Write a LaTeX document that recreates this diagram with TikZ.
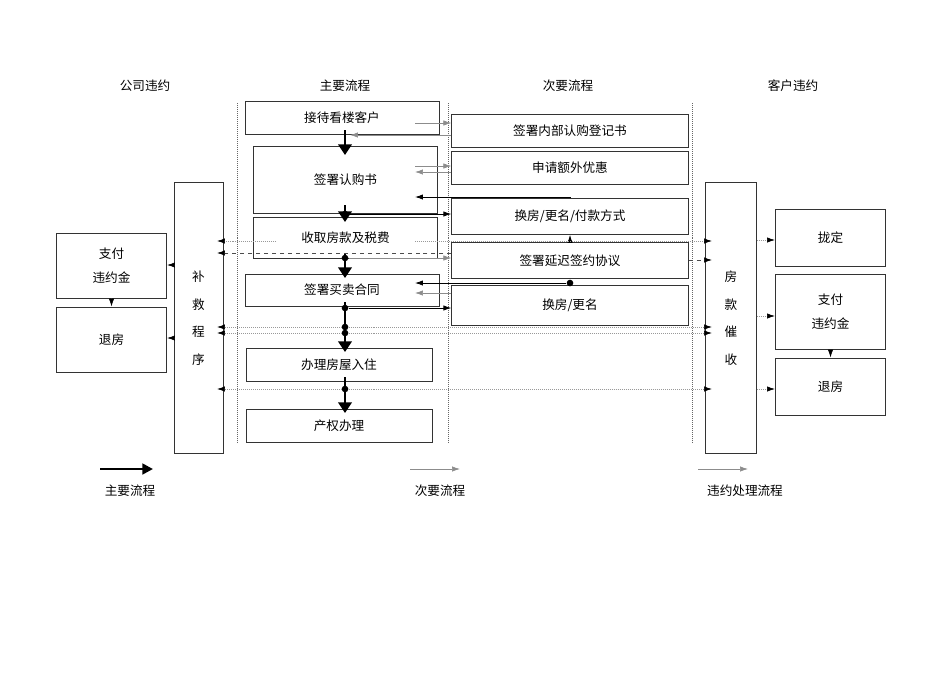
\documentclass[tikz,border=0pt]{standalone}
\usepackage{fontspec}
\setmainfont{Noto Sans CJK SC}
\usetikzlibrary{arrows.meta}
\begin{document}
\begin{tikzpicture}[x=0.02646cm,y=-0.02646cm,
  font=\fontsize{9.5}{11}\selectfont,
  box/.style={draw=black!80,line width=0.6pt,rectangle,inner sep=0pt},
  main/.style={line width=2.2pt,-{Triangle[length=8pt,width=10pt]}},
  sec/.style={draw=black!45,line width=0.5pt,-{Latex[length=6pt,width=4pt]},arrowcolor},
  arrowcolor/.style={},
  dk/.style={draw=black,line width=0.6pt,-{Latex[length=6pt,width=4pt]}},
  dot2/.style={draw=black!40,line width=0.5pt,densely dotted,-{Latex[length=6pt,width=4pt,black]}},
  dsh/.style={draw=black!70,line width=0.5pt,dashed,-{Latex[length=6pt,width=4pt,black]}},
  div/.style={draw=black!60,densely dotted,line width=0.5pt},
  sd/.style={circle,fill=black,inner sep=0pt,minimum size=5pt}]
\useasboundingbox (0,0) rectangle (950,672);
% headers
\node (h1) at (145,86) {公司违约};
\node (h2) at (345,86) {主要流程};
\node (h3) at (568,86) {次要流程};
\node (h4) at (793,86) {客户违约};
\foreach \x in {237,448,692} \draw[div] (\x,103) -- (\x,443);
% main boxes
\newcommand{\bx}[6]{\node[box,minimum width=#4-#2,minimum height=#5-#3] (#1) at ({(#2+#4)/2},{(#3+#5)/2}) {#6};}
\bx{m1}{269}{105}{415}{130}{接待看楼客户}
\bx{m2}{276}{155}{415}{205}{签署认购书}
\bx{m3}{276}{222}{415}{253}{收取房款及税费}
\bx{m4}{269}{278}{415}{302}{签署买卖合同}
\bx{m5}{269}{352}{409}{377}{办理房屋入住}
\bx{m6}{269}{413}{409}{438}{产权办理}
\bx{s1}{481}{118}{659}{143}{签署内部认购登记书}
\bx{s2}{481}{155}{659}{180}{申请额外优惠}
\bx{s3}{481}{203}{659}{230}{换房/更名/付款方式}
\bx{s4}{481}{247}{659}{274}{签署延迟签约协议}
\bx{s5}{481}{290}{659}{320}{换房/更名}
\bx{L}{180}{216}{217}{420}{\shortstack{补\\[9pt]救\\[9pt]程\\[9pt]序}}
\bx{L1}{70}{241}{153}{290}{\shortstack{支付\\[6pt]违约金}}
\bx{L2}{70}{315}{153}{364}{退房}
\bx{R}{712}{216}{750}{420}{\shortstack{房\\[9pt]款\\[9pt]催\\[9pt]收}}
\bx{R1}{789}{216}{872}{259}{拢定}
\bx{R2}{789}{284}{872}{340}{\shortstack{支付\\[6pt]违约金}}
\bx{R3}{789}{365}{872}{408}{退房}
% spine
\draw[main] (345,130) -- (345,155);
\draw[main] (345,205) -- (345,222);
\draw[main] (345,253) -- (345,278);
\draw[main] (345,302) -- (345,352);
\draw[main] (345,377) -- (345,413);
% secondary
\draw[sec] (415,123) -- (s1.west|-0,123);
\draw[sec] (s1.west|-0,135) -- (350,135);
\draw[sec] (415,166) -- (s2.west|-0,166);
\draw[sec] (s2.west|-0,172) -- (415,172);
\draw[dk] (s3.north-|570,0) -- (570,197) -- (415,197);
\node[sd] (d1) at (345,214) {};
\draw[dk] (d1) -- (s3.west|-0,214);
\draw[dk] (s4.north-|570,0) -- (s3.south-|570,0);
\node[sd] (d2) at (345,258) {};
\draw[sec] (d2) -- (s4.west|-0,258);
\node[sd] (d3) at (570,283) {};
\draw[dk] (d3) -- (415,283);
\draw[sec] (s5.west|-0,293) -- (415,293);
\node[sd] (d4) at (345,308) {};
\draw[dk] (d4) -- (s5.west|-0,308);
% cross lines
\draw[dot2] (276,241) -- (217,241);
\draw[dot2] (415,241) -- (712,241);
\draw[dsh] (s4.west|-0,253) -- (217,253);
\draw[dsh] (s4.east|-0,260) -- (712,260);
\node[sd] (d5) at (345,327) {};
\node[sd] (d6) at (345,333) {};
\node[sd] (d7) at (345,389) {};
\foreach \d/\y in {d5/327,d6/333,d7/389}{
  \draw[dot2] (\d) -- (217,\y);
  \draw[dot2] (\d) -- (712,\y);}
% sides
\draw[dot2] (L.west|-0,265) -- (L1.east|-0,265);
\draw[dot2] (L.west|-0,338) -- (L2.east|-0,338);
\draw[dsh] (L1) -- (L2);
\draw[dot2] (R.east|-0,240) -- (R1.west|-0,240);
\draw[dot2] (R.east|-0,316) -- (R2.west|-0,316);
\draw[dot2] (R.east|-0,389) -- (R3.west|-0,389);
\draw[dsh] (R2) -- (R3);
% legend
\coordinate (a1) at (100,469); \coordinate (a2) at (153,469);
\draw[line width=2pt,-{Triangle[length=8pt,width=8pt]}] (a1) -- (a2);
\node (l1) at (130,491) {主要流程};
\coordinate (b1) at (410,469); \coordinate (b2) at (460,469);
\draw[sec] (b1) -- (b2);
\node (l2) at (440,491) {次要流程};
\coordinate (c1) at (698,469); \coordinate (c2) at (748,469);
\draw[sec] (c1) -- (c2);
\node (l3) at (745,491) {违约处理流程};
\end{tikzpicture}
\end{document}
